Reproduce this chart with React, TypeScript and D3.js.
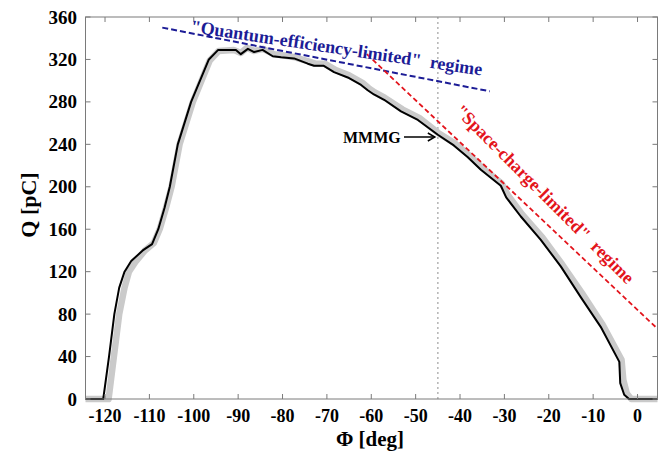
import React, { useEffect, useRef } from 'react';
import * as d3 from 'd3';

// measured charge (black) and the broader gray trace behind it
const measuredPhi = [-124.4, -120.4, -119.1, -117.9, -116.8, -115.6, -114.1, -111.5, -109.4, -108, -106.6, -105.4, -103.6, -100.6, -96.6, -94.5, -90.5, -89.4, -87.8, -86.4, -84.5, -82.2, -80.3, -77.4, -74.3, -72.9, -70.7, -68.4, -65.3, -62.3, -60.8, -59.4, -57.1, -53.3, -49.5, -45, -41.4, -38.3, -35.3, -30.8, -29.6, -26.3, -21.8, -17.3, -12.8, -8.3, -4.1, -3.9, -3.0, -1.9, 4.5];
const measuredQ = [0, 0, 40, 80, 105, 120, 130, 140, 146, 160, 180, 200, 240, 280, 320, 329, 329, 325, 330, 327, 329, 323, 322, 321, 316, 314, 314, 308, 303, 296, 291, 287, 282, 271, 263, 249, 239, 228, 216, 201, 190, 172, 150, 125, 96, 68, 35, 15, 4, 0, 0];

const grayPhi = [-124.4, -119.2, -118, -116.8, -115.6, -114.6, -113, -111, -109, -107.6, -106.2, -105, -103.2, -100.2, -96.4, -94.4, -91, -89.4, -88, -86.4, -84.4, -82, -80, -77.2, -74, -72.6, -70.4, -68, -65, -62, -60.6, -59.2, -57, -53, -49.2, -45, -41.2, -38, -35, -30.6, -29.2, -26, -21.4, -17, -12.4, -8, -3.6, -3.2, -2.4, -1.4, 4.5];
const grayQ = [0, 0, 40, 80, 105, 120, 130, 140, 147, 161, 181, 200, 240, 280, 319, 328, 329, 326, 331, 328, 330, 325, 324, 322, 318, 316, 316, 310, 305, 298, 293, 289, 284, 273, 265, 251, 241, 230, 218, 203, 192, 174, 152, 127, 99, 71, 37, 18, 5, 0, 0];

// regime guide lines
const quantumLine = [[-107.1, 350], [-33.3, 290]];
const spaceLine = [[-61, 325], [4.3, 67]];

const xTicks = [-120, -110, -100, -90, -80, -70, -60, -50, -40, -30, -20, -10, 0];
const yTicks = [0, 40, 80, 120, 160, 200, 240, 280, 320, 360];
const mmmgPhi = -45;

export default function App() {
	const ref = useRef<SVGSVGElement>(null);

	useEffect(() => {
		const svg = d3.select(ref.current);
		svg.selectAll('*').remove();

		const x = d3.scaleLinear().domain([-124.4, 4.5]).range([85.5, 657.5]);
		const y = d3.scaleLinear().domain([0, 360]).range([399, 17]);
		const font = '"Liberation Serif", "Times New Roman", serif';

		const line = d3
			.line<number[]>()
			.x(d => x(d[0]))
			.y(d => y(d[1]));

		// dotted MMMG phase
		svg.append('line')
			.attr('x1', x(mmmgPhi))
			.attr('x2', x(mmmgPhi))
			.attr('y1', y(0))
			.attr('y2', y(360))
			.attr('stroke', '#b4b4b4')
			.attr('stroke-width', 1.5)
			.attr('stroke-dasharray', '2,3');

		// curves
		svg.append('path')
			.attr('d', line(grayPhi.map((p, i) => [p, grayQ[i]])))
			.attr('fill', 'none')
			.attr('stroke', '#cacaca')
			.attr('stroke-width', 6.5)
			.attr('stroke-linejoin', 'round');
		svg.append('path')
			.attr('d', line(measuredPhi.map((p, i) => [p, measuredQ[i]])))
			.attr('fill', 'none')
			.attr('stroke', '#000')
			.attr('stroke-width', 2)
			.attr('stroke-linejoin', 'round');

		// guide lines
		svg.append('path')
			.attr('d', line(quantumLine))
			.attr('fill', 'none')
			.attr('stroke', '#1c1c96')
			.attr('stroke-width', 2)
			.attr('stroke-dasharray', '6,3');
		svg.append('path')
			.attr('d', line(spaceLine))
			.attr('fill', 'none')
			.attr('stroke', '#e3141c')
			.attr('stroke-width', 1.8)
			.attr('stroke-dasharray', '5,3');

		// box and ticks
		const g = svg.append('g').attr('stroke', '#7a7a7a').attr('stroke-width', 1);
		g.append('rect')
			.attr('x', 85.5)
			.attr('y', 17)
			.attr('width', 572)
			.attr('height', 382)
			.attr('fill', 'none');
		xTicks.forEach(t => {
			g.append('line').attr('x1', x(t)).attr('x2', x(t)).attr('y1', y(0)).attr('y2', y(0) - 5);
			g.append('line').attr('x1', x(t)).attr('x2', x(t)).attr('y1', y(360)).attr('y2', y(360) + 5);
		});
		yTicks.forEach(t => {
			g.append('line').attr('x1', 85.5).attr('x2', 90.5).attr('y1', y(t)).attr('y2', y(t));
			g.append('line').attr('x1', 657.5).attr('x2', 652.5).attr('y1', y(t)).attr('y2', y(t));
		});

		// tick labels
		svg.append('g')
			.selectAll('text')
			.data(xTicks)
			.enter()
			.append('text')
			.attr('x', d => x(d))
			.attr('y', 422)
			.attr('text-anchor', 'middle')
			.style('font', `bold 18px ${font}`)
			.text(d => d);
		svg.append('g')
			.selectAll('text')
			.data(yTicks)
			.enter()
			.append('text')
			.attr('x', 77)
			.attr('y', d => y(d) + 6.5)
			.attr('text-anchor', 'end')
			.style('font', `bold 19px ${font}`)
			.text(d => d);

		// axis titles
		svg.append('text')
			.attr('x', 370)
			.attr('y', 446)
			.attr('text-anchor', 'middle')
			.style('font', `bold 21px ${font}`)
			.text('Φ [deg]');
		svg.append('text')
			.attr('transform', 'translate(36,205) rotate(-90)')
			.attr('text-anchor', 'middle')
			.style('font', `bold 22px ${font}`)
			.text('Q [pC]');

		// regime labels
		svg.append('text')
			.attr('transform', 'translate(190,32) rotate(8.5)')
			.attr('fill', '#1c1c96')
			.style('font', `bold 18px ${font}`)
			.style('white-space', 'pre')
			.text('"Quantum-efficiency-limited"  regime');
		svg.append('text')
			.attr('transform', 'translate(454,112) rotate(45)')
			.attr('fill', '#e3141c')
			.style('font', `bold 18px ${font}`)
			.style('white-space', 'pre')
			.text('"Space-charge-limited"  regime');

		// MMMG marker
		const ay = 137;
		svg.append('text')
			.attr('x', 343)
			.attr('y', ay + 5.5)
			.style('font', `bold 16px ${font}`)
			.text('MMMG');
		svg.append('line')
			.attr('x1', 404)
			.attr('x2', x(mmmgPhi) - 3)
			.attr('y1', ay)
			.attr('y2', ay)
			.attr('stroke', '#000')
			.attr('stroke-width', 1.5);
		svg.append('path')
			.attr('d', `M${x(mmmgPhi) - 10},${ay - 4}L${x(mmmgPhi) - 3},${ay}L${x(mmmgPhi) - 10},${ay + 4}`)
			.attr('fill', 'none')
			.attr('stroke', '#000')
			.attr('stroke-width', 1.5);
	}, []);

	return (
		<svg
			ref={ref}
			width={664}
			height={453}
			style={{ position: 'absolute', left: 0, top: 0, background: '#fff' }}
		/>
	);
}
